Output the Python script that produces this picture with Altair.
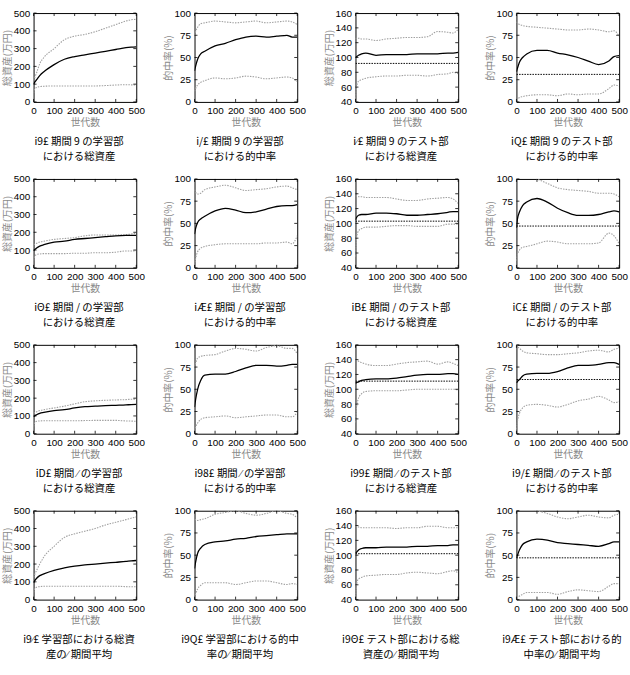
import altair as alt
import pandas as pd

# common x grid (世代数)
G = [0, 5, 15, 30, 50, 100, 150, 200, 250, 300, 350, 400, 450, 475, 500]
XTICKS = [0, 100, 200, 300, 400, 500]
ASSET_TICKS = [0, 100, 200, 300, 400, 500]
TEST_ASSET_TICKS = [40, 60, 80, 100, 120, 140, 160]
ACC_TICKS = [0, 25, 50, 75, 100]

# Panel data: upper, mean, lower, (baseline)
p1_up = [120, 135, 165, 215, 250, 300, 350, 370, 380, 395, 415, 435, 455, 462, 465]
p1_mean = [100, 110, 125, 148, 170, 210, 240, 255, 265, 275, 285, 295, 305, 308, 310]
p1_low = [50, 72, 82, 86, 88, 90, 90, 90, 90, 90, 92, 95, 97, 96, 95]

p2_up = [75, 79, 84, 88, 89, 91, 90, 89, 90, 91, 89, 90, 91, 90, 87]
p2_mean = [35, 40, 48, 54, 57, 63, 66, 70, 73, 74, 73, 74, 75, 73, 73]
p2_low = [12, 15, 19, 22, 24, 27, 26, 27, 29, 28, 26, 27, 28, 27, 23]

p3_up = [125, 126, 126, 125, 125, 123, 125, 126, 127, 127, 128, 135, 134, 133, 138]
p3_mean = [100, 101, 103, 105, 106, 103, 104, 104, 104, 105, 105, 105, 106, 106, 107]
p3_low = [45, 60, 68, 70, 72, 74, 75, 75, 76, 76, 75, 77, 78, 80, 78]
p3_base = 92

p4_up = [90, 89, 87, 86, 85, 84, 83, 82, 81, 81, 82, 81, 79, 80, 74]
p4_mean = [34, 38, 45, 50, 54, 58, 58, 55, 53, 50, 46, 42, 46, 51, 52]
p4_low = [2, 3, 5, 6, 7, 8, 8, 7, 9, 8, 9, 9, 15, 19, 18]
p4_base = 31

p5_up = [130, 133, 138, 145, 150, 160, 165, 170, 180, 185, 185, 185, 187, 190, 195]
p5_mean = [95, 102, 112, 122, 130, 145, 150, 160, 165, 170, 175, 180, 182, 182, 182]
p5_low = [40, 65, 75, 78, 80, 80, 80, 82, 82, 85, 85, 88, 95, 95, 95]

p6_up = [88, 85, 83, 84, 88, 91, 93, 90, 87, 88, 89, 91, 92, 90, 88]
p6_mean = [38, 44, 51, 55, 58, 64, 67, 65, 62, 63, 66, 69, 70, 70, 71]
p6_low = [3, 10, 18, 22, 24, 26, 27, 27, 27, 27, 28, 28, 29, 27, 36]

p7_up = [137, 137, 136, 136, 135, 135, 135, 133, 131, 131, 133, 134, 135, 133, 127]
p7_mean = [105, 108, 111, 112, 112, 114, 114, 113, 111, 111, 112, 113, 115, 116, 116]
p7_low = [55, 80, 90, 93, 95, 95, 96, 97, 97, 96, 96, 96, 99, 99, 99]
p7_base = 103

p8_up = [115, 112, 110, 107, 105, 100, 95, 90, 88, 87, 86, 84, 84, 83, 80]
p8_mean = [45, 55, 63, 70, 74, 78, 74, 67, 62, 59, 59, 60, 63, 64, 63]
p8_low = [8, 15, 20, 23, 24, 27, 30, 29, 27, 27, 27, 28, 39, 36, 27]
p8_base = 47

p9_up = [115, 118, 123, 130, 135, 145, 155, 168, 180, 185, 188, 190, 192, 194, 195]
p9_mean = [95, 100, 107, 115, 120, 130, 135, 145, 152, 155, 158, 160, 162, 164, 165]
p9_low = [40, 60, 70, 72, 73, 73, 73, 73, 74, 75, 75, 75, 72, 71, 70]

p10_up = [75, 79, 85, 87, 88, 89, 93, 96, 95, 93, 97, 99, 96, 96, 90]
p10_mean = [30, 38, 50, 60, 66, 67, 67, 70, 74, 77, 77, 76, 77, 78, 78]
p10_low = [3, 7, 12, 16, 18, 19, 20, 18, 19, 20, 21, 21, 19, 19, 24]

p11_up = [140, 139, 138, 136, 134, 132, 132, 134, 136, 137, 138, 134, 137, 135, 132]
p11_mean = [108, 109, 110, 112, 113, 114, 114, 115, 117, 119, 120, 120, 121, 121, 120]
p11_low = [55, 75, 88, 94, 97, 98, 98, 98, 99, 100, 100, 100, 100, 100, 99]
p11_base = 111

p12_up = [100, 98, 96, 93, 91, 90, 89, 89, 90, 91, 93, 94, 92, 95, 96]
p12_mean = [57, 59, 61, 65, 67, 68, 68, 70, 74, 77, 77, 78, 80, 80, 78]
p12_low = [5, 14, 23, 29, 32, 33, 32, 30, 33, 37, 39, 42, 38, 35, 36]
p12_base = 61

p13_up = [125, 140, 165, 200, 240, 300, 350, 370, 385, 400, 420, 435, 450, 458, 465]
p13_mean = [95, 105, 120, 135, 145, 165, 178, 188, 195, 200, 205, 210, 215, 218, 220]
p13_low = [40, 60, 70, 73, 75, 75, 75, 75, 75, 75, 75, 75, 73, 72, 72]

p14_up = [90, 90, 89, 90, 91, 96, 98, 100, 97, 95, 97, 100, 97, 96, 92]
p14_mean = [35, 42, 52, 58, 62, 65, 66, 68, 69, 71, 72, 73, 74, 74, 74]
p14_low = [2, 6, 12, 16, 19, 19, 19, 17, 19, 21, 21, 19, 17, 18, 17]

p15_up = [140, 139, 138, 137, 137, 137, 137, 136, 137, 137, 139, 139, 137, 137, 137]
p15_mean = [103, 104, 107, 109, 110, 110, 111, 111, 111, 112, 112, 113, 113, 114, 114]
p15_low = [40, 60, 68, 70, 72, 73, 74, 74, 76, 77, 76, 75, 78, 79, 76]
p15_base = 102

p16_up = [108, 107, 106, 104, 103, 100, 97, 93, 91, 93, 95, 93, 92, 95, 96]
p16_mean = [47, 50, 56, 62, 65, 68, 67, 64, 63, 62, 61, 60, 63, 65, 65]
p16_low = [2, 3, 4, 6, 8, 8, 8, 6, 9, 11, 10, 9, 15, 18, 18]
p16_base = 47

CAPTIONS = [
    ["i9£ 期間 9 の学習部", "における総資産"],
    ["i/£ 期間 9 の学習部", "における的中率"],
    ["i⁄£ 期間 9 のテスト部", "における総資産"],
    ["iQ£ 期間 9 のテスト部", "における的中率"],
    ["iΘ£ 期間 / の学習部", "における総資産"],
    ["iÆ£ 期間 / の学習部", "における的中率"],
    ["iB£ 期間 / のテスト部", "における総資産"],
    ["iC£ 期間 / のテスト部", "における的中率"],
    ["iD£ 期間 ⁄ の学習部", "における総資産"],
    ["i98£ 期間 ⁄ の学習部", "における的中率"],
    ["i99£ 期間 ⁄ のテスト部", "における総資産"],
    ["i9/£ 期間 ⁄ のテスト部", "における的中率"],
    ["i9⁄£ 学習部における総資", "産の⁄ 期間平均"],
    ["i9Q£ 学習部における的中", "率の⁄ 期間平均"],
    ["i9Θ£ テスト部における総", "資産の⁄ 期間平均"],
    ["i9Æ£ テスト部における的", "中率の⁄ 期間平均"],
]

ASSET_TITLE = "総資産(万円)"
ACC_TITLE = "的中率(%)"
X_TITLE = "世代数"

W, H = 104, 90
GRAY = "#a0a0a0"


def panel(up, mean, low, kind, caption, base=None):
    if kind == "asset":
        dom, ticks, ytitle = [0, 500], ASSET_TICKS, ASSET_TITLE
    elif kind == "tasset":
        dom, ticks, ytitle = [40, 160], TEST_ASSET_TICKS, ASSET_TITLE
    else:
        dom, ticks, ytitle = [0, 100], ACC_TICKS, ACC_TITLE
    xenc = alt.X("x:Q", scale=alt.Scale(domain=[0, 500], nice=False, zero=False),
                 axis=alt.Axis(values=XTICKS, title=X_TITLE))
    yenc = alt.Y("y:Q", scale=alt.Scale(domain=dom, nice=False, zero=False),
                 axis=alt.Axis(values=ticks, title=ytitle))
    df_up = pd.DataFrame({"x": G, "y": up})
    df_mean = pd.DataFrame({"x": G, "y": mean})
    df_low = pd.DataFrame({"x": G, "y": low})
    layers = []
    for df in (df_up, df_low):
        layers.append(alt.Chart(df).mark_line(color=GRAY, strokeWidth=1.1, strokeDash=[1.5, 1.2],
                                              interpolate="monotone", clip=True).encode(x=xenc, y=yenc))
    if base is not None:
        df_b = pd.DataFrame({"x": [0, 500], "y": [base, base]})
        layers.append(alt.Chart(df_b).mark_line(color="black", strokeWidth=1, strokeDash=[1.5, 1.2],
                                                clip=True).encode(x=xenc, y=yenc))
    layers.append(alt.Chart(df_mean).mark_line(color="black", strokeWidth=1.3,
                                               interpolate="monotone", clip=True).encode(x=xenc, y=yenc))
    # inward ticks
    dxt = pd.DataFrame({"x": XTICKS})
    dyt = pd.DataFrame({"y": ticks})
    layers.append(alt.Chart(dxt).mark_rule(color="black", strokeWidth=0.8).encode(
        x=xenc, y=alt.value(H - 3), y2=alt.value(H)))
    layers.append(alt.Chart(dxt).mark_rule(color="black", strokeWidth=0.8).encode(
        x=xenc, y=alt.value(0), y2=alt.value(3)))
    layers.append(alt.Chart(dyt).mark_rule(color="black", strokeWidth=0.8).encode(
        y=yenc, x=alt.value(0), x2=alt.value(3)))
    layers.append(alt.Chart(dyt).mark_rule(color="black", strokeWidth=0.8).encode(
        y=yenc, x=alt.value(W - 3), x2=alt.value(W)))
    return alt.layer(*layers).properties(
        width=W, height=H,
        title=alt.TitleParams(text=caption, orient="bottom", fontSize=10.5, font="Noto Sans CJK JP",
                              fontWeight="normal", color="black", offset=10, lineHeight=15,
                              anchor="middle", dx=-6),
    )


specs = [
    (p1_up, p1_mean, p1_low, "asset", None),
    (p2_up, p2_mean, p2_low, "acc", None),
    (p3_up, p3_mean, p3_low, "tasset", p3_base),
    (p4_up, p4_mean, p4_low, "acc", p4_base),
    (p5_up, p5_mean, p5_low, "asset", None),
    (p6_up, p6_mean, p6_low, "acc", None),
    (p7_up, p7_mean, p7_low, "tasset", p7_base),
    (p8_up, p8_mean, p8_low, "acc", p8_base),
    (p9_up, p9_mean, p9_low, "asset", None),
    (p10_up, p10_mean, p10_low, "acc", None),
    (p11_up, p11_mean, p11_low, "tasset", p11_base),
    (p12_up, p12_mean, p12_low, "acc", p12_base),
    (p13_up, p13_mean, p13_low, "asset", None),
    (p14_up, p14_mean, p14_low, "acc", None),
    (p15_up, p15_mean, p15_low, "tasset", p15_base),
    (p16_up, p16_mean, p16_low, "acc", p16_base),
]

panels = [panel(u, m, l, k, CAPTIONS[i], b) for i, (u, m, l, k, b) in enumerate(specs)]
rows = [alt.hconcat(*panels[r * 4:(r + 1) * 4], spacing=18) for r in range(4)]
chart = alt.vconcat(*rows, spacing=10).properties(
    padding={"left": 2, "top": 3, "right": 2, "bottom": 0}
).configure_view(stroke="black", strokeWidth=1).configure_axis(
    grid=False, domain=False, ticks=False, labelPadding=4,
    labelFont="Liberation Sans", labelFontSize=10, labelColor="black",
    titleFont="Noto Sans CJK JP", titleFontSize=10, titleColor="#8a8a8a",
    titleFontWeight="normal", titlePadding=1,
).configure_axisY(minExtent=20, maxExtent=20).configure_axisX(
    labelOverlap=False, labelFlush=False, minExtent=16, maxExtent=16, titlePadding=0)

chart.save("out.html", embed_options={"renderer": "svg", "actions": False})
